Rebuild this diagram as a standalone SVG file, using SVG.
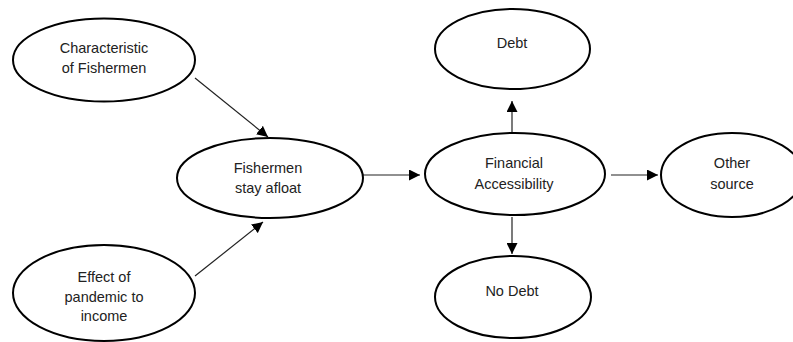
<svg xmlns="http://www.w3.org/2000/svg" width="793" height="342" viewBox="0 0 793 342">
<style>
.node ellipse{fill:#fff;stroke:#000;stroke-width:2}
.node text{font-family:"Liberation Sans",Arial,sans-serif;font-size:14.5px;fill:#222;text-anchor:middle}
.edge{stroke:#222;stroke-width:1.2;fill:none;marker-end:url(#ah)}
</style>
<defs>
<marker id="ah" viewBox="0 0 10 10" refX="10" refY="5" markerUnits="userSpaceOnUse" markerWidth="11" markerHeight="11" orient="auto">
<path d="M0,0 L10,5 L0,10 Z" fill="#000"/>
</marker>
</defs>
<rect width="793" height="342" fill="#fff"/>
<g id="connectors">
<line class="edge" x1="195" y1="78" x2="268" y2="137"/>
<line class="edge" x1="195" y1="276" x2="263" y2="222"/>
<line class="edge" x1="363" y1="175" x2="420" y2="175"/>
<line class="edge" x1="512" y1="134" x2="512" y2="101"/>
<line class="edge" x1="512" y1="217" x2="512" y2="254"/>
<line class="edge" x1="611" y1="175" x2="658" y2="175"/>
</g>
<g id="characteristic" class="node">
<ellipse cx="104" cy="60" rx="91" ry="41.5"/>
<text x="104" y="53">Characteristic</text>
<text x="104" y="73">of Fishermen</text>
</g>
<g id="effect" class="node">
<ellipse cx="104" cy="293" rx="91" ry="48"/>
<text x="104" y="282">Effect of</text>
<text x="104" y="302">pandemic to</text>
<text x="104" y="321">income</text>
</g>
<g id="fishermen" class="node">
<ellipse cx="270" cy="178" rx="93" ry="40"/>
<text x="268" y="173">Fishermen</text>
<text x="268" y="193">stay afloat</text>
</g>
<g id="financial" class="node">
<ellipse cx="515" cy="174" rx="90" ry="41"/>
<text x="514" y="168">Financial</text>
<text x="514" y="189">Accessibility</text>
</g>
<g id="debt" class="node">
<ellipse cx="512.5" cy="49" rx="77.5" ry="40"/>
<text x="512" y="48">Debt</text>
</g>
<g id="nodebt" class="node">
<ellipse cx="513" cy="297" rx="78" ry="41"/>
<text x="512" y="296">No Debt</text>
</g>
<g id="other" class="node">
<ellipse cx="732" cy="175" rx="71" ry="42"/>
<text x="732" y="168">Other</text>
<text x="732" y="189">source</text>
</g>
</svg>
